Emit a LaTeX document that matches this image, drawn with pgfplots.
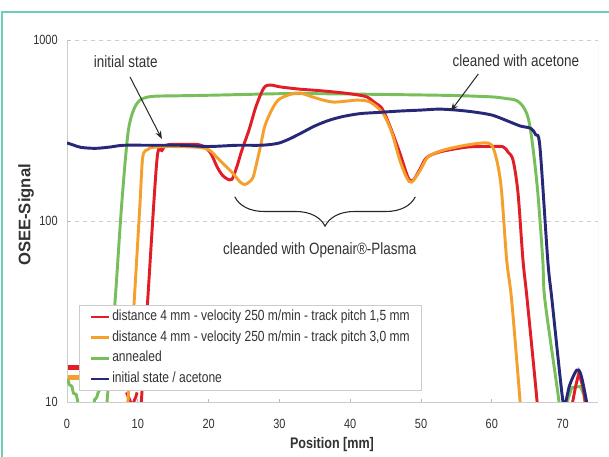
\documentclass[border=0pt]{standalone}
\usepackage{pgfplots}
\pgfplotsset{compat=1.18}
\usepackage{fontspec}
\setmainfont{Liberation Sans}[FakeStretch=0.82]
\newfontfamily\ylabfont{Liberation Sans}
\usetikzlibrary{arrows.meta,decorations.pathreplacing}
\definecolor{cred}{RGB}{225,30,40}
\definecolor{corange}{RGB}{245,160,45}
\definecolor{cgreen}{RGB}{120,190,90}
\definecolor{cblue}{RGB}{40,40,120}
\definecolor{frame}{RGB}{110,205,185}
\definecolor{txt}{RGB}{50,50,50}
\begin{document}
\begin{tikzpicture}
\useasboundingbox (0,0) rectangle (456.75pt,342pt);
\fill[white] (0,0) rectangle (456.75pt,342pt);
\draw[frame, line width=1.6pt] (1.5pt,-3pt) -- (1.5pt,333pt) -- (460pt,333pt);
\begin{axis}[
  at={(50.25pt,40.5pt)}, anchor=south west,
  scale only axis, width=398.25pt, height=271.5pt,
  xmin=0, xmax=75, ymode=log, ymin=10, ymax=1000,
  xtick={0,10,20,30,40,50,60,70},
  ytick={10,100,1000}, yticklabels={10,100,1000},
  yminorticks=false,
  axis x line*=bottom, axis y line*=left,
  axis line style={draw=gray!40, line width=0.6pt},
  ymajorgrids, grid style={gray!40, dashed, line width=0.5pt},
  tick align=inside, major tick length=2.5pt,
  tick style={gray!55, line width=0.6pt},
  /pgf/number format/assume math mode=true,
  tick label style={font=\fontsize{10}{12}\selectfont, text=txt},
  xticklabel style={yshift=-9pt},
  yticklabel style={xshift=-3.5pt},
  legend cell align=left,
  legend image code/.code={\draw[#1] (0pt,0pt) -- (13.5pt,0pt);},
  legend style={at={(rel axis cs:0.0226,0.268)}, anchor=north west,
    draw=gray!40, line width=0.5pt, fill=white,
    inner xsep=8pt, inner ysep=2.5pt, row sep=3pt,
    font=\fontsize{11}{13}\selectfont, text=txt,
    nodes={inner sep=1pt, text height=8pt, text depth=2.5pt}},
]
\draw[gray!40, line width=0.6pt] (rel axis cs:1,0) -- (rel axis cs:1,1);

% green: annealed
\addplot[cgreen, line width=2.2pt, forget plot] coordinates {
(0.1,13.5) (0.3,12.5) (0.7,12.2) (0.9,11.2) (1.3,11) (1.5,10.2) (1.6,9)
};
\addplot[cgreen, line width=2.2pt, forget plot] coordinates {
(3.7,9) (3.9,10.3) (4.2,10.6) (4.4,11.3) (4.7,11.8)
};
\addplot[cgreen, line width=2.2pt, smooth, tension=0.5, forget plot] coordinates {
(5.3,7) (5.65,10) (6.8,36.6) (7.7,120) (8.6,303) (9.4,410) (10.3,465) (11.5,485)
(13,490) (16,492) (20,495) (25,500) (30,505) (35,505) (40,503) (45,500)
(50,497) (55,493) (60,485) (62,475) (63.5,463) (64.5,424) (65.2,363)
(65.8,256) (66.5,143) (67.2,61) (67.5,36.6) (69.4,10.7) (69.7,8)
};
\addplot[cgreen, line width=2.2pt, forget plot] coordinates {
(70.3,9) (70.8,10.5) (71.3,12) (72.5,12.2) (73,11) (73.3,9)
};

% red
\addplot[cred, line width=4pt, forget plot] coordinates {(0.1,15.5) (2.0,15.5)};
\addplot[cred, line width=2.2pt, forget plot] coordinates {
(8.4,11.3) (8.7,10.6) (8.9,10.2) (9.2,9.3) (9.5,10.2) (9.7,10.6) (9.9,11.3)
};
\addplot[cred, line width=2.2pt, smooth, tension=0.5, forget plot] coordinates {
(10.2,6.5) (10.5,10) (11.4,36.6) (12.7,217) (13.4,245) (14.1,263) (16,265)
(18.8,263) (20.2,240) (21.2,199) (21.9,180) (22.6,171) (23.3,170) (24.0,200)
(24.7,246) (25.7,318) (26.7,430) (27.8,543) (28.7,564) (30.2,550) (32.9,535)
(35.7,525) (39.0,510) (41.1,497) (42.4,484) (43.5,450) (44.5,418) (45.6,335)
(47.0,238) (48.2,173) (48.9,168) (49.9,195) (50.8,224) (52.7,241) (56.5,256)
(59.7,258) (61.6,257) (62.3,240) (63.0,217) (63.7,143) (64.4,61) (65.0,36.6)
(66.4,10) (66.7,6.5)
};
\addplot[cred, line width=2.2pt, forget plot] coordinates {
(71.2,9) (71.8,12) (72.3,14.5) (72.9,12) (73.4,9)
};

% orange
\addplot[corange, line width=4pt, forget plot] coordinates {(0.1,13.6) (2.0,13.6)};
\addplot[corange, line width=2.2pt, smooth, tension=0.5, forget plot] coordinates {
(8.3,6.5) (8.6,10) (9.5,36.6) (10.3,123) (10.7,226) (11.4,248) (12.1,255)
(14.5,258) (18.8,255) (20.2,245) (21.2,224) (22.3,203) (23.4,184) (24.4,165)
(25.1,159) (25.8,165) (26.3,175) (26.8,210) (27.3,256) (27.9,330) (28.7,395)
(29.8,465) (31.5,500) (32.9,510) (35.0,480) (37.6,454) (40.9,465) (42.8,454)
(44.6,395) (45.9,306) (47.0,217) (48.0,173) (48.7,164) (49.9,191) (51.0,226)
(53.1,246) (56.5,263) (59.3,270) (60.2,253) (60.9,199) (61.4,143) (62.1,61)
(62.8,36.6) (64.0,10) (64.3,6.5)
};

% blue: initial state / acetone
\addplot[cblue, line width=2.2pt, smooth, tension=0.5, forget plot] coordinates {
(0,270) (1,262) (2,255) (4,252) (6,256) (8,262) (12,262) (16,262) (20,258)
(24,262) (27,262) (28.5,264) (30,270) (31.5,285) (33,305) (35,335) (37,360)
(39,378) (41.4,392) (44,398) (47,405) (50,410) (52.5,415) (55,410) (57.5,400)
(60,385) (62,360) (64,335) (65.5,325) (66.2,300) (66.8,256) (67.9,61)
(68.5,36.6) (69.9,11.2) (70.3,9.6) (71,12.4) (72,15) (72.6,14.1) (73.4,10) (73.6,9)
};

\addlegendimage{cred, line width=2.2pt}
\addlegendentry{distance 4 mm - velocity 250 m/min - track pitch 1,5 mm}
\addlegendimage{corange, line width=2.2pt}
\addlegendentry{distance 4 mm - velocity 250 m/min - track pitch 3,0 mm}
\addlegendimage{cgreen, line width=2.2pt}
\addlegendentry{annealed}
\addlegendimage{cblue, line width=2.2pt}
\addlegendentry{initial state / acetone}

% annotations
\node[font=\fontsize{12.3}{14}\selectfont, text=txt] at (axis cs:8.3,755) {initial state};
\node[font=\fontsize{12.3}{14}\selectfont, text=txt] at (axis cs:63.4,766) {cleaned with acetone};
\node[font=\fontsize{12.3}{14}\selectfont, text=txt] at (axis cs:35.7,69.2) {cleanded with Openair®-Plasma};
\draw[-{Stealth[length=6pt,width=4.5pt]}, line width=0.75pt, black!85] (axis cs:8.9,625) -- (axis cs:13.4,284);
\draw[-{Stealth[length=6pt,width=4.5pt]}, line width=0.75pt, black!85] (axis cs:58.1,649) -- (axis cs:54.2,405);
\draw[decorate, decoration={brace, amplitude=22pt, mirror}, line width=0.8pt, black!85]
  (axis cs:23.7,136) -- (axis cs:49.2,136);
\end{axis}
\node[font=\bfseries\fontsize{11.5}{13}\selectfont, text=txt] at (249pt,8.25pt) {Position [mm]};
\node[rotate=90, font=\ylabfont\bfseries\fontsize{12.5}{14}\selectfont, text=txt] at (19.5pt,180.75pt) {OSEE-Signal};
\end{tikzpicture}
\end{document}
